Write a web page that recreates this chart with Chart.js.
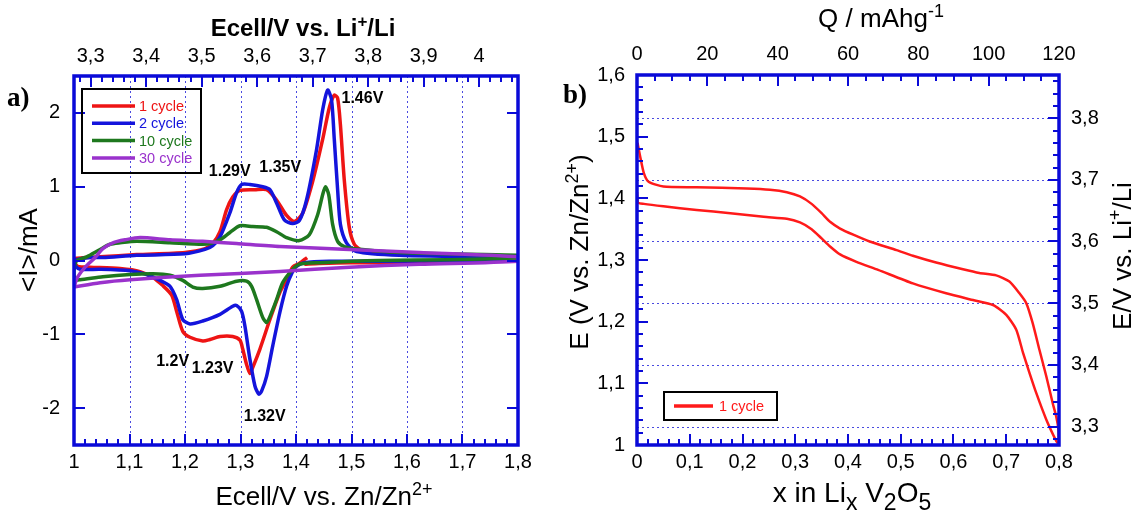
<!DOCTYPE html>
<html>
<head>
<meta charset="utf-8">
<script src="https://cdn.jsdelivr.net/npm/chart.js@4.4.0/dist/chart.umd.min.js"></script>
<style>
  html, body { margin: 0; padding: 0; background: #fff; }
  #cvChart { position: absolute; left: 0; top: 0; }
  #gcdChart { position: absolute; left: 555px; top: 0; }
</style>
</head>
<body>
<canvas id="cvChart" width="555" height="514"></canvas>
<canvas id="gcdChart" width="580" height="514"></canvas>
<script>
// ---- panel a) cyclic voltammetry, E vs Zn/Zn2+ (V) and current (mA) ----
const cycleNames = ['1 cycle', '2 cycle', '10 cycle', '30 cycle'];
const cycleColors = ['#ee1414', '#1414dc', '#1e781e', '#9a32cc'];

const cycle1E = [1.420, 1.406, 1.394, 1.383, 1.371, 1.353, 1.335, 1.322, 1.317, 1.311, 1.304, 1.299, 1.286, 1.263, 1.245, 1.232, 1.209, 1.196, 1.185, 1.176, 1.160, 1.142, 1.119, 1.083, 1.029, 1.007, 1.002, 1.000,
  1.004, 1.020, 1.047, 1.113, 1.200, 1.236, 1.250, 1.263, 1.275, 1.286, 1.299, 1.326, 1.347, 1.365, 1.383, 1.397, 1.412, 1.430, 1.448, 1.460, 1.469, 1.475, 1.480, 1.487, 1.496, 1.505, 1.518, 1.550, 1.676, 1.799,
  1.799, 1.676, 1.586, 1.496, 1.442, 1.415];
const cycle1I = [0.04, -0.04, -0.09, -0.26, -0.43, -0.80, -1.20, -1.45, -1.53, -1.41, -1.20, -1.08, -1.03, -1.03, -1.07, -1.09, -1.04, -0.96, -0.69, -0.47, -0.34, -0.23, -0.15, -0.11, -0.09, -0.08, -0.04, 0.00,
  0.03, 0.04, 0.05, 0.08, 0.11, 0.16, 0.23, 0.39, 0.69, 0.86, 0.95, 0.96, 0.96, 0.82, 0.61, 0.53, 0.64, 1.07, 1.64, 2.07, 2.24, 2.20, 1.84, 1.09, 0.45, 0.22, 0.14, 0.09, 0.07, 0.04,
  0.02, -0.01, -0.03, -0.03, -0.04, -0.05];

const cycle2E = [1.800, 1.676, 1.550, 1.460, 1.415, 1.401, 1.394, 1.383, 1.371, 1.358, 1.347, 1.338, 1.333, 1.326, 1.317, 1.308, 1.302, 1.293, 1.286, 1.263, 1.232, 1.209, 1.196, 1.185, 1.173, 1.155, 1.131, 1.101, 1.047, 1.011, 1.002, 1.000,
  1.004, 1.029, 1.052, 1.113, 1.200, 1.236, 1.250, 1.263, 1.281, 1.293, 1.302, 1.317, 1.340, 1.353, 1.365, 1.379, 1.394, 1.406, 1.419, 1.437, 1.448, 1.457, 1.464, 1.469, 1.475, 1.480, 1.491, 1.509, 1.586, 1.800];
const cycle2I = [0.01, 0.00, -0.01, -0.01, -0.03, -0.08, -0.15, -0.35, -0.70, -1.16, -1.57, -1.77, -1.81, -1.70, -1.34, -0.89, -0.69, -0.61, -0.62, -0.73, -0.82, -0.86, -0.80, -0.53, -0.35, -0.27, -0.19, -0.14, -0.12, -0.12, -0.07, -0.01,
  0.01, 0.04, 0.04, 0.07, 0.09, 0.15, 0.20, 0.32, 0.65, 0.92, 1.03, 1.03, 1.00, 0.96, 0.78, 0.55, 0.50, 0.54, 0.82, 1.50, 2.04, 2.31, 2.18, 1.64, 0.96, 0.49, 0.24, 0.12, 0.07, 0.04];

const cycle10E = [1.800, 1.676, 1.550, 1.442, 1.406, 1.394, 1.376, 1.365, 1.353, 1.347, 1.340, 1.329, 1.320, 1.311, 1.293, 1.263, 1.232, 1.214, 1.196, 1.173, 1.142, 1.101, 1.052, 1.011, 1.002, 1.000,
  1.004, 1.023, 1.047, 1.065, 1.083, 1.113, 1.173, 1.232, 1.250, 1.263, 1.281, 1.299, 1.322, 1.347, 1.365, 1.383, 1.406, 1.424, 1.439, 1.448, 1.453, 1.459, 1.466, 1.475, 1.487, 1.505, 1.586, 1.800];
const cycle10I = [0.03, 0.01, 0.00, -0.03, -0.05, -0.12, -0.30, -0.53, -0.76, -0.84, -0.77, -0.53, -0.35, -0.28, -0.28, -0.35, -0.38, -0.36, -0.27, -0.20, -0.18, -0.19, -0.22, -0.26, -0.26, -0.15,
  -0.01, 0.05, 0.15, 0.22, 0.24, 0.26, 0.24, 0.22, 0.24, 0.28, 0.38, 0.47, 0.46, 0.45, 0.39, 0.31, 0.27, 0.35, 0.62, 0.89, 1.00, 0.89, 0.49, 0.26, 0.19, 0.16, 0.11, 0.07];

const cycle30E = [1.000, 1.007, 1.020, 1.038, 1.052, 1.070, 1.092, 1.119, 1.173, 1.232, 1.293, 1.371, 1.496, 1.622, 1.800,
  1.800, 1.622, 1.496, 1.371, 1.227, 1.101, 1.047, 1.000];
const cycle30I = [-0.35, -0.22, -0.09, 0.04, 0.16, 0.24, 0.28, 0.31, 0.28, 0.26, 0.23, 0.19, 0.15, 0.11, 0.05,
  -0.01, -0.05, -0.09, -0.15, -0.20, -0.26, -0.30, -0.36];

const cvTicksZn = [1, 1.1, 1.2, 1.3, 1.4, 1.5, 1.6, 1.7, 1.8];
const cvTicksLi = [3.3, 3.4, 3.5, 3.6, 3.7, 3.8, 3.9, 4.0];
const cvTicksI = [-2, -1, 0, 1, 2];

const peakLabels = ['1.46V', '1.29V', '1.35V', '1.2V', '1.23V', '1.32V'];
const peakLabelE = [1.482, 1.243, 1.334, 1.148, 1.212, 1.306];
const peakLabelI = [2.14, 1.15, 1.20, -1.43, -1.52, -2.18];

// ---- panel b) galvanostatic curve, x in LixV2O5 vs E ----
const gcdLowerX = [0.000, 0.002, 0.013, 0.050, 0.113, 0.177, 0.240, 0.284, 0.309, 0.331, 0.350, 0.366, 0.385, 0.416, 0.457, 0.523, 0.586, 0.637, 0.675, 0.700, 0.719, 0.732, 0.744, 0.757, 0.776, 0.795, 0.800];
const gcdLowerE = [1.410, 1.393, 1.391, 1.387, 1.381, 1.376, 1.370, 1.367, 1.361, 1.350, 1.335, 1.322, 1.309, 1.297, 1.284, 1.262, 1.246, 1.235, 1.227, 1.211, 1.187, 1.149, 1.117, 1.084, 1.041, 1.006, 1.000];
const gcdUpperX = [0.800, 0.799, 0.795, 0.788, 0.776, 0.763, 0.750, 0.738, 0.725, 0.706, 0.681, 0.649, 0.618, 0.567, 0.523, 0.492, 0.441, 0.410, 0.385, 0.366, 0.350, 0.331, 0.309, 0.284, 0.252, 0.208, 0.113, 0.050, 0.022, 0.013, 0.006, 0.001];
const gcdUpperE = [1.000, 1.025, 1.045, 1.068, 1.111, 1.154, 1.198, 1.230, 1.246, 1.265, 1.275, 1.279, 1.285, 1.296, 1.307, 1.316, 1.330, 1.341, 1.351, 1.362, 1.376, 1.391, 1.403, 1.410, 1.414, 1.416, 1.418, 1.419, 1.427, 1.441, 1.468, 1.490];

const gcdTicksX = [0, 0.1, 0.2, 0.3, 0.4, 0.5, 0.6, 0.7, 0.8];
const gcdTicksE = [1, 1.1, 1.2, 1.3, 1.4, 1.5, 1.6];
const gcdTicksLi = [3.3, 3.4, 3.5, 3.6, 3.7, 3.8];
const gcdTicksQ = [0, 20, 40, 60, 80, 100, 120];

const AXIS_BLUE = '#0a0ad8';
const GRID_BLUE = '#4a4ae0';
const SANS = "'Liberation Sans', Arial, sans-serif";
Chart.defaults.font.family = SANS;
Chart.defaults.color = '#000';

function fmt(v) {
  const r = Math.round(v * 100) / 100;
  return Number.isInteger(r) ? String(r) : String(r).replace('.', ',');
}

function toPoints(xs, ys) {
  return xs.map((x, i) => ({ x: x, y: ys[i] }));
}

// fixed axis sizes so the plot frames line up with the picture
function axis(pos, min, max, tickVals, size, pad) {
  return {
    type: 'linear', position: pos, min: min, max: max,
    afterBuildTicks: s => { s.ticks = tickVals.map(v => ({ value: v })); },
    afterFit: s => {
      if (pos === 'left' || pos === 'right') s.width = size; else s.height = size;
      s.paddingLeft = s.paddingRight = s.paddingTop = s.paddingBottom = 0;
    },
    ticks: { callback: fmt, padding: pad, font: { size: 20 }, color: '#000', maxRotation: 0, autoSkip: false },
    grid: { display: false, drawTicks: false },
    border: { display: false }
  };
}

// rich text with sub/superscripts: parts = [[text, 'n'|'sup'|'sub'], ...]
function richText(ctx, parts, x, y, size, weight, small) {
  const fontFor = k => weight + ' ' + (k === 'n' ? size : Math.round(size * small)) + 'px ' + SANS;
  let total = 0;
  parts.forEach(p => { ctx.font = fontFor(p[1]); total += ctx.measureText(p[0]).width; });
  let cx = x - total / 2;
  ctx.textAlign = 'left';
  parts.forEach(p => {
    ctx.font = fontFor(p[1]);
    const dy = p[1] === 'sup' ? -size * 0.38 : p[1] === 'sub' ? size * 0.3 : 0;
    ctx.fillText(p[0], cx, y + dy);
    cx += ctx.measureText(p[0]).width;
  });
}

// frame, inward ticks, dotted grid, titles, notes and legend box for one panel
function makeFrame(conf) {
  return {
    id: 'frame',
    beforeDatasetsDraw(chart) {
      const ctx = chart.ctx, a = chart.chartArea;
      ctx.save();
      ctx.strokeStyle = GRID_BLUE; ctx.lineWidth = 1; ctx.setLineDash([2, 3]);
      conf.grid.forEach(g => {
        const s = chart.scales[g.scale];
        g.values.forEach(v => {
          const p = Math.round(s.getPixelForValue(v)) + 0.5;
          ctx.beginPath();
          if (s.isHorizontal()) { ctx.moveTo(p, a.top); ctx.lineTo(p, a.bottom); }
          else { ctx.moveTo(a.left, p); ctx.lineTo(a.right, p); }
          ctx.stroke();
        });
      });
      ctx.restore();
    },
    afterDraw(chart) {
      const ctx = chart.ctx, a = chart.chartArea;
      ctx.save();
      // ticks pointing into the plot, drawn as small filled bars
      ctx.fillStyle = AXIS_BLUE;
      conf.ticks.forEach(t => {
        const s = chart.scales[t.scale];
        const vals = t.major.map(v => [v, 11]);
        if (t.minor) {
          const n = Math.round((t.max - t.min) / t.minor);
          for (let k = 0; k <= n; k++) {
            const q = t.min + k * t.minor;
            if (!t.major.some(m => Math.abs(m - q) < 1e-6)) vals.push([q, 6]);
          }
        }
        t.sides.forEach(side => {
          vals.forEach(pair => {
            const p = Math.round(s.getPixelForValue(pair[0]));
            const len = pair[1];
            if (side === 'bottom') ctx.fillRect(p - 1, a.bottom - len, 2, len);
            if (side === 'top') ctx.fillRect(p - 1, a.top, 2, len);
            if (side === 'left') ctx.fillRect(a.left, p - 1, len, 2);
            if (side === 'right') ctx.fillRect(a.right - len, p - 1, len, 2);
          });
        });
      });
      ctx.strokeStyle = AXIS_BLUE;
      ctx.lineWidth = 3.5;
      ctx.strokeRect(a.left, a.top, a.right - a.left, a.bottom - a.top);

      ctx.fillStyle = '#000';
      conf.titles.forEach(t => {
        ctx.save();
        ctx.translate(t.x, t.y);
        if (t.rotate) ctx.rotate(-Math.PI / 2);
        ctx.textBaseline = 'alphabetic';
        richText(ctx, t.parts, 0, 0, t.size, t.weight || 'normal', t.small || 0.7);
        ctx.restore();
      });
      ctx.font = 'bold 27px "Liberation Serif", "Times New Roman", serif';
      ctx.textAlign = 'left'; ctx.textBaseline = 'alphabetic';
      ctx.fillText(conf.letter.text, conf.letter.x, conf.letter.y);
      if (conf.notes) {
        const sx = chart.scales.x, sy = chart.scales.y;
        ctx.font = 'bold 16px ' + SANS;
        conf.notes.text.forEach((txt, i) => {
          ctx.fillText(txt, sx.getPixelForValue(conf.notes.xs[i]), sy.getPixelForValue(conf.notes.ys[i]));
        });
      }
      const L = conf.legend;
      ctx.strokeStyle = '#000'; ctx.lineWidth = 2;
      ctx.strokeRect(L.x, L.y, L.w, L.h);
      ctx.font = '14.5px ' + SANS; ctx.textBaseline = 'middle';
      L.items.forEach((it, i) => {
        const yy = L.y + L.first + i * L.row;
        ctx.strokeStyle = it.color; ctx.lineWidth = 3.5;
        ctx.beginPath(); ctx.moveTo(L.x + L.l0, yy); ctx.lineTo(L.x + L.l1, yy); ctx.stroke();
        ctx.fillStyle = it.color;
        ctx.fillText(it.label, L.x + L.tx, yy + 1);
      });
      ctx.restore();
    }
  };
}

// ---------------- panel a ----------------
const cvE = [cycle1E, cycle2E, cycle10E, cycle30E];
const cvI = [cycle1I, cycle2I, cycle10I, cycle30I];
const cvOrder = [4, 3, 2, 1];

new Chart(document.getElementById('cvChart'), {
  type: 'line',
  data: {
    datasets: cycleNames.map((name, i) => ({
      label: name,
      data: toPoints(cvE[i], cvI[i]),
      borderColor: cycleColors[i],
      borderWidth: 3.5,
      pointRadius: 0,
      tension: 0.25,
      fill: false,
      order: cvOrder[i],
      xAxisID: 'x', yAxisID: 'y'
    }))
  },
  options: {
    responsive: false,
    animation: false,
    layout: { autoPadding: false, padding: { left: 0, right: 37, top: 0, bottom: 0 } },
    plugins: { legend: { display: false }, tooltip: { enabled: false } },
    scales: {
      x: axis('bottom', 1, 1.8, cvTicksZn, 69, 5),
      xLi: axis('top', 3.27, 4.07, cvTicksLi, 76, 8),
      y: axis('left', -2.5, 2.5, cvTicksI, 74, 14)
    }
  },
  plugins: [makeFrame({
    grid: [{ scale: 'x', values: [1.1, 1.2, 1.3, 1.4, 1.5, 1.6, 1.7] }],
    ticks: [
      { scale: 'x', major: cvTicksZn, minor: 0.02, min: 1, max: 1.8, sides: ['bottom'] },
      { scale: 'xLi', major: cvTicksLi, minor: 0.02, min: 3.28, max: 4.06, sides: ['top'] },
      { scale: 'y', major: cvTicksI, sides: ['left', 'right'] }
    ],
    titles: [
      { parts: [['Ecell/V vs. Li', 'n'], ['+', 'sup'], ['/Li', 'n']], x: 303, y: 36, size: 24, weight: 'bold' },
      { parts: [['Ecell/V vs. Zn/Zn', 'n'], ['2+', 'sup']], x: 324, y: 505, size: 26 },
      { parts: [['<I>/mA', 'n']], x: 37, y: 250, size: 26, rotate: true }
    ],
    letter: { text: 'a)', x: 7, y: 106 },
    notes: { text: peakLabels, xs: peakLabelE, ys: peakLabelI },
    legend: {
      x: 82, y: 89, w: 119, h: 84, first: 17, row: 17.3, l0: 10, l1: 53, tx: 57,
      items: cycleNames.map((n, i) => ({ label: n, color: cycleColors[i] }))
    }
  })]
});

// ---------------- panel b ----------------
const gcdColor = '#ff1a1a';

new Chart(document.getElementById('gcdChart'), {
  type: 'line',
  data: {
    datasets: [
      { label: '1 cycle', data: toPoints(gcdLowerX, gcdLowerE), borderColor: gcdColor, borderWidth: 2.5, pointRadius: 0, tension: 0.2, xAxisID: 'x', yAxisID: 'y' },
      { label: '1 cycle', data: toPoints(gcdUpperX, gcdUpperE), borderColor: gcdColor, borderWidth: 2.5, pointRadius: 0, tension: 0.2, xAxisID: 'x', yAxisID: 'y' }
    ]
  },
  options: {
    responsive: false,
    animation: false,
    layout: { autoPadding: false, padding: 0 },
    plugins: { legend: { display: false }, tooltip: { enabled: false } },
    scales: {
      x: axis('bottom', 0, 0.8, gcdTicksX, 69, 5),
      xQ: axis('top', 0, 120, gcdTicksQ, 75, 9),
      y: axis('left', 1, 1.6, gcdTicksE, 82, 12),
      yLi: axis('right', 3.27, 3.87, gcdTicksLi, 76, 12)
    }
  },
  plugins: [makeFrame({
    grid: [{ scale: 'yLi', values: gcdTicksLi }],
    ticks: [
      { scale: 'x', major: gcdTicksX, minor: 0.02, min: 0, max: 0.8, sides: ['bottom'] },
      { scale: 'xQ', major: gcdTicksQ, minor: 5, min: 0, max: 120, sides: ['top'] },
      { scale: 'y', major: gcdTicksE, minor: 0.02, min: 1, max: 1.6, sides: ['left'] },
      { scale: 'yLi', major: gcdTicksLi, minor: 0.02, min: 3.28, max: 3.86, sides: ['right'] }
    ],
    titles: [
      { parts: [['Q / mAhg', 'n'], ['-1', 'sup']], x: 326, y: 27, size: 26 },
      { parts: [['x in Li', 'n'], ['x', 'sub'], [' V', 'n'], ['2', 'sub'], ['O', 'n'], ['5', 'sub']], x: 297, y: 502, size: 28, small: 0.82 },
      { parts: [['E (V vs. Zn/Zn', 'n'], ['2+', 'sup'], [')', 'n']], x: 33, y: 252, size: 26, rotate: true },
      { parts: [['E/V vs. Li', 'n'], ['+', 'sup'], ['/Li', 'n']], x: 576, y: 256, size: 26, rotate: true }
    ],
    letter: { text: 'b)', x: 8, y: 103 },
    legend: {
      x: 109, y: 392, w: 113, h: 28, first: 14, row: 18, l0: 10, l1: 49, tx: 55,
      items: [{ label: '1 cycle', color: gcdColor }]
    }
  })]
});
</script>
</body>
</html>
